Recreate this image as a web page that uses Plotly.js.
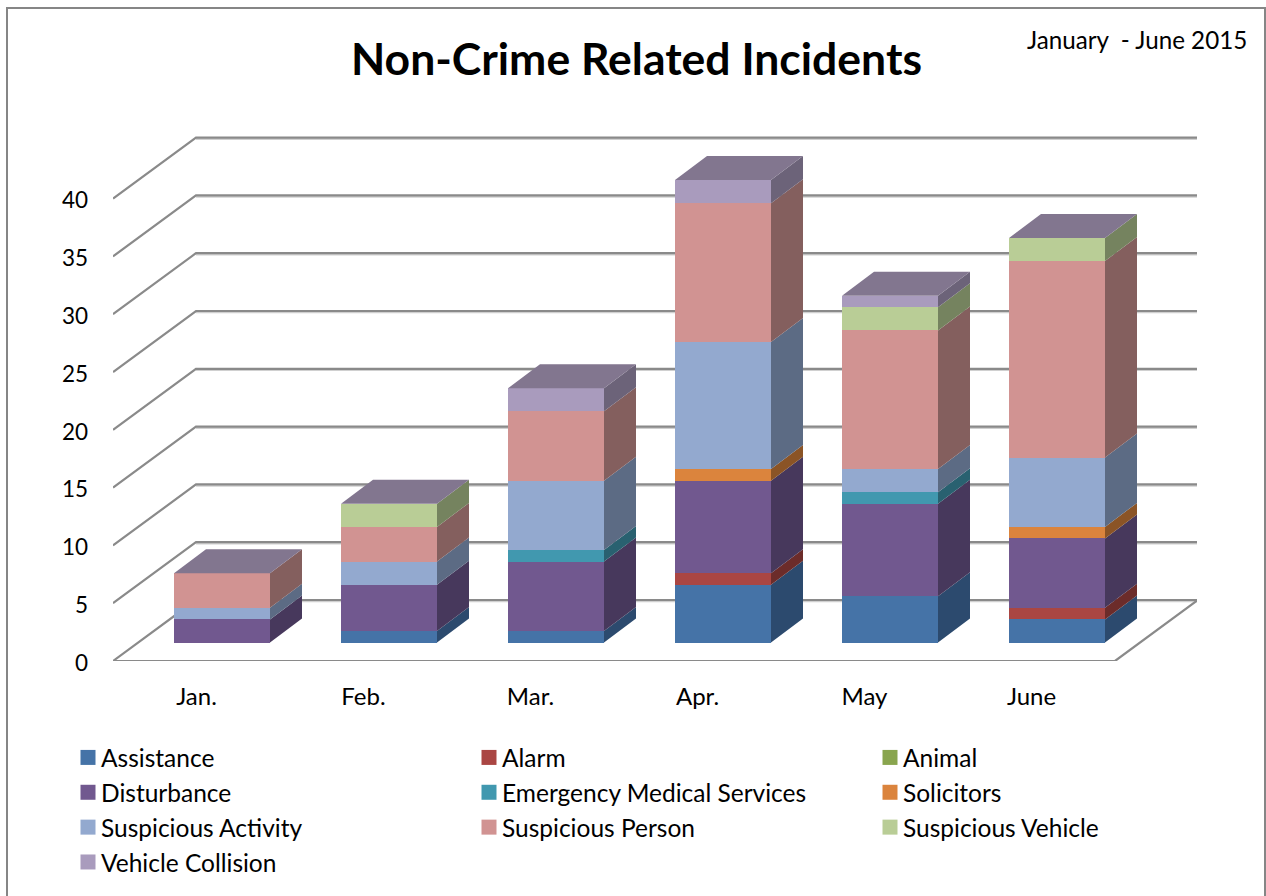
<!DOCTYPE html>
<html><head><meta charset="utf-8">
<script src="https://cdn.plot.ly/plotly-3.0.0.min.js"></script>
<style>html,body{margin:0;padding:0;background:#fff}#c{width:1266px;height:896px}</style>
</head><body><div id="c"></div>
<script>
// ---- data ----
const months = ['Jan.','Feb.','Mar.','Apr.','May','June'];
const seriesNames = ['Assistance','Alarm','Animal','Disturbance','Emergency Medical Services','Solicitors','Suspicious Activity','Suspicious Person','Suspicious Vehicle','Vehicle Collision'];
const assistance = [0,1,1,5,4,2];
const alarm      = [0,0,0,1,0,1];
const animal     = [0,0,0,0,0,0];
const disturbance= [2,4,6,8,8,6];
const ems        = [0,0,1,0,1,0];
const solicitors = [0,0,0,1,0,1];
const suspActivity=[1,2,6,11,2,6];
const suspPerson = [3,3,6,12,12,17];
const suspVehicle= [0,2,0,0,2,2];
const vehicleColl= [0,0,2,2,1,0];
const yTicks = [0,5,10,15,20,25,30,35,40];
const frontColors = ['#4573A7','#AA4643','#89A54E','#71588F','#4198AF','#DB843D','#93A9CF','#D19392','#B9CD96','#A99BBD'];
const sideColors  = ['#2C4A6E','#6C2C2A','#75835F','#47385C','#296170','#8B5426','#5C6B84','#845F5E','#75835F','#6C6379'];
const topColor = '#82768F';
const gridColor = '#8A8A8A';
const gridShadow = '#D0D0D0';
const FONT = 'Lato, Carlito, Calibri, sans-serif';

// ---- geometry ----
const W=1266,H=896, mL=10,mR=10, pL=113,pR=1197,pT=130,pB=661;
const unit=11.56, catW=167, wallDx=83, wallDy=61;      // px per value, px per category, wall depth
const frontX0=196.5;                                   // px of first category on the front plane
const barDx=25.5, barDy=18.5, barW=96, sideDx=32, sideDy=24;
const xr=(c0)=>[(pL-c0)/catW,(pR-c0)/catW];
const px=x=>(x-mL)/(W-mL-mR), py=y=>(pB-y)/(pB-pT);
const all=[assistance,alarm,animal,disturbance,ems,solicitors,suspActivity,suspPerson,suspVehicle,vehicleColl];

const traces=[];
// front faces: stacked bars
all.forEach((vals,s)=>traces.push({type:'bar',x:months.map((m,i)=>i),y:vals,name:seriesNames[s],
  width:barW/catW,marker:{color:frontColors[s],line:{width:0}},xaxis:'x2',yaxis:'y2',hoverinfo:'skip'}));
// wall: floor and gridlines follow the axis ticks
const wdx=wallDx/catW, wdy=wallDy/unit, xL=-0.5, xRight=xL+months.length;
const lineT=(x,y,color)=>({type:'scatter',mode:'lines',x,y,line:{color:color||gridColor,width:2.2,simplify:false},showlegend:false,hoverinfo:'skip',xaxis:'x',yaxis:'y',cliponaxis:false});
yTicks.forEach(t=>{
  const sh=1.2/unit;
  traces.push(lineT([xL+wdx,xRight+wdx],[t+wdy-sh,t+wdy-sh],gridShadow));
  if(t===0) traces.push(lineT([xL+wdx,xL,xRight,xRight+wdx,xL+wdx],[wdy,0,0,wdy,wdy]));
  else traces.push(lineT([xL,xL+wdx,xRight+wdx],[t,t+wdy,t+wdy]));
});
// side faces
const cum=months.map(()=>0);
const sdx=sideDx/catW, sdy=sideDy/unit, hw=barW/catW/2;
all.forEach((vals,s)=>{
  const X=[],Y=[];
  vals.forEach((v,i)=>{
    const b=cum[i],t=b+v; cum[i]=t;
    if(v>0){X.push(i+hw,i+hw+sdx,i+hw+sdx,i+hw,i+hw,null);Y.push(b,b+sdy,t+sdy,t,b,null);}
  });
  traces.push({type:'scatter',mode:'lines',x:X,y:Y,fill:'toself',fillcolor:sideColors[s],line:{width:0},showlegend:false,hoverinfo:'skip',xaxis:'x2',yaxis:'y2'});
});
// top faces
const TX=[],TY=[];
cum.forEach((t,i)=>{TX.push(i-hw,i+hw,i+hw+sdx,i-hw+sdx,i-hw,null);TY.push(t,t,t+sdy,t+sdy,t,null);});
traces.push({type:'scatter',mode:'lines',x:TX,y:TY,fill:'toself',fillcolor:topColor,line:{width:0},showlegend:false,hoverinfo:'skip',xaxis:'x2',yaxis:'y2'});

const yMax=(pB-pT)/unit;
const layout={
  width:W,height:H,margin:{l:mL,r:mR,t:pT,b:H-pB,pad:0,autoexpand:false},
  paper_bgcolor:'#fff',plot_bgcolor:'rgba(0,0,0,0)',barmode:'stack',
  font:{family:FONT,color:'#000',size:24},
  title:{text:'<b>Non-Crime Related Incidents</b>',font:{family:FONT,size:44.5,color:'#000'},x:636.5/W,xanchor:'center',xref:'container',y:1-59/H,yanchor:'middle'},
  xaxis:{type:'linear',domain:[px(pL),px(pR)],range:xr(frontX0),tickmode:'array',tickvals:months.map((m,i)=>i),ticktext:months,showgrid:false,zeroline:false,showline:false,ticks:'',ticklabelstandoff:19,tickfont:{size:24},automargin:false},
  yaxis:{type:'linear',range:[0,yMax],tickmode:'array',tickvals:yTicks,showgrid:false,zeroline:false,showline:false,ticks:'',ticklabelstandoff:24,ticklabelshift:2,tickfont:{size:22.5},automargin:false},
  xaxis2:{type:'linear',overlaying:'x',domain:[px(pL),px(pR)],range:xr(frontX0+barDx),visible:false,fixedrange:true},
  yaxis2:{type:'linear',overlaying:'y',range:[-barDy/unit,yMax-barDy/unit],visible:false,fixedrange:true},
  legend:{orientation:'h',xref:'container',yref:'container',x:61/W,xanchor:'left',y:1-735/H,yanchor:'top',traceorder:'normal',entrywidth:356,entrywidthmode:'pixels',font:{size:24.5,family:FONT},bgcolor:'rgba(0,0,0,0)',borderwidth:0},
  shapes:[{type:'rect',xref:'paper',yref:'paper',x0:px(7),x1:px(1265),y0:py(8),y1:py(899),line:{color:'#868686',width:2},fillcolor:'rgba(0,0,0,0)',layer:'below'}],
  annotations:[{text:'January \u00A0- June 2015',xref:'paper',yref:'paper',x:px(1137),y:py(39),xanchor:'center',yanchor:'middle',showarrow:false,font:{size:24.2,family:FONT,color:'#000'}}]
};
Plotly.newPlot('c',traces,layout,{displayModeBar:false,staticPlot:true}).then(()=>{
  // legend swatches: same size and offset as the reference
  document.querySelectorAll('.legend .legendpoints path').forEach(p=>p.setAttribute('transform','translate(27,0) scale(1.25)'));
});
</script></body></html>
